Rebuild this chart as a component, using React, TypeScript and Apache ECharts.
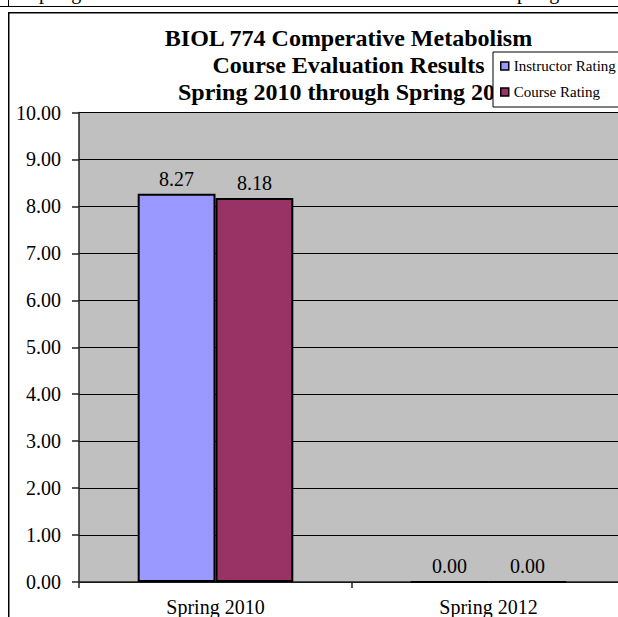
import React, { useEffect, useRef } from "react";
import * as echarts from "echarts";

const categories = ["Spring 2010", "Spring 2012"];
const instructorRating = [8.27, 0.0];
const courseRating = [8.18, 0.0];
const titleLines = [
  "BIOL 774 Comperative Metabolism",
  "Course Evaluation Results",
  "Spring 2010 through Spring 2012",
];
const headerTexts = ["Spring 2010", "Spring 2012"];

const SERIF = "'Liberation Serif', 'Times New Roman', serif";

export default function App() {
  const ref = useRef<HTMLDivElement>(null);
  useEffect(() => {
    if (!ref.current) return;
    document.documentElement.style.overflow = "hidden";
    document.body.style.overflow = "hidden";
    document.body.style.margin = "0";
    const chart = echarts.init(ref.current, undefined, { renderer: "svg" });
    const option: any = {
      animation: false,
      backgroundColor: "#ffffff",
      textStyle: { fontFamily: SERIF },
      grid: {
        left: 79,
        top: 112.5,
        right: -7,
        bottom: 35,
        show: true,
        backgroundColor: "#C0C0C0",
        borderWidth: 0,
        containLabel: false,
        outerBoundsMode: "none",
      },
      legend: {
        orient: "vertical",
        left: 493,
        top: 52,
        backgroundColor: "#ffffff",
        borderColor: "#000000",
        borderWidth: 1,
        borderRadius: 0,
        padding: [6, 30, 7, 7],
        itemWidth: 8,
        itemHeight: 8,
        itemGap: 10,
        icon: "rect",
        itemStyle: { borderColor: "#000", borderWidth: 1.5 },
        textStyle: { fontFamily: SERIF, fontSize: 15, color: "#000", lineHeight: 16 },
        data: ["Instructor Rating", "Course Rating"],
      },
      graphic: [
        {
          type: "line",
          z: 1,
          shape: { x1: 0, y1: 6.5, x2: 618, y2: 6.5 },
          style: { stroke: "#000", lineWidth: 1 },
        },
        {
          type: "line",
          z: 1,
          shape: { x1: 8.5, y1: 0, x2: 8.5, y2: 6.5 },
          style: { stroke: "#000", lineWidth: 1 },
        },
        {
          type: "text",
          z: 1,
          x: 28,
          y: 2,
          style: { text: headerTexts[0], font: `20px ${SERIF}`, fill: "#000", verticalAlign: "bottom" },
        },
        {
          type: "text",
          z: 1,
          x: 506,
          y: 2,
          style: { text: headerTexts[1], font: `20px ${SERIF}`, fill: "#000", verticalAlign: "bottom" },
        },
        {
          type: "polyline",
          z: 0,
          shape: { points: [[8.75, 617], [8.75, 12.75], [618, 12.75]] },
          style: { fill: "none", stroke: "#000", lineWidth: 1.5 },
        },
        ...titleLines.map((t, i) => ({
          type: "text",
          z: 1,
          x: 348.5,
          y: 38 + i * 27,
          style: {
            text: t,
            font: `bold 24px ${SERIF}`,
            fill: "#000",
            align: "center",
            verticalAlign: "middle",
          },
        })),
      ],
      xAxis: {
        type: "category",
        data: categories,
        axisLine: { show: true, lineStyle: { color: "#222", width: 1.5 } },
        axisTick: { show: true, length: 6, lineStyle: { color: "#222", width: 1.5 } },
        axisLabel: { fontFamily: SERIF, fontSize: 20, color: "#000", margin: 15 },
        splitLine: { show: false },
      },
      yAxis: {
        type: "value",
        min: 0,
        max: 10,
        interval: 1,
        axisLine: { show: true, lineStyle: { color: "#222", width: 1.5 } },
        axisTick: { show: true, length: 7, lineStyle: { color: "#222", width: 1.5 } },
        axisLabel: {
          fontFamily: SERIF,
          fontSize: 20,
          color: "#000",
          margin: 18,
          formatter: (v: number) => v.toFixed(2),
        },
        splitLine: { show: true, lineStyle: { color: "#000", width: 1 } },
      },
      series: [
        {
          name: "Instructor Rating",
          type: "bar",
          data: instructorRating,
          barGap: "0%",
          barCategoryGap: "43%",
          itemStyle: { color: "#9999FF", borderColor: "#000", borderWidth: 2 },
          label: {
            show: true,
            position: "top",
            distance: 5,
            fontFamily: SERIF,
            fontSize: 20,
            color: "#000",
            formatter: (p: any) => Number(p.value).toFixed(2),
          },
        },
        {
          name: "Course Rating",
          type: "bar",
          data: courseRating,
          barGap: "0%",
          barCategoryGap: "43%",
          itemStyle: { color: "#993366", borderColor: "#000", borderWidth: 2 },
          label: {
            show: true,
            position: "top",
            distance: 5,
            fontFamily: SERIF,
            fontSize: 20,
            color: "#000",
            formatter: (p: any) => Number(p.value).toFixed(2),
          },
        },
      ],
    };
    chart.setOption(option);
    return () => chart.dispose();
  }, []);
  return <div ref={ref} style={{ width: 618, height: 617, overflow: "hidden" }} />;
}
